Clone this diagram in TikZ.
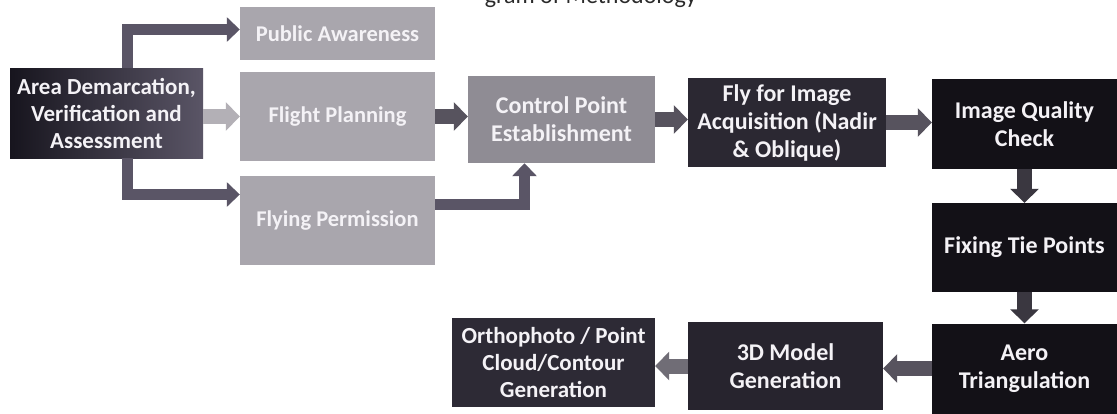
\documentclass[tikz,border=0pt]{standalone}
\usepackage{fontspec}
\setmainfont{Carlito}
\usetikzlibrary{arrows.meta}
\definecolor{boxtext}{HTML}{F4F2F6}
\definecolor{areaL}{HTML}{17151E}
\definecolor{areaR}{HTML}{5A5566}
\definecolor{lightfill}{HTML}{A9A6AD}
\definecolor{cpfill}{HTML}{8F8C94}
\definecolor{flyfill}{HTML}{2B2832}
\definecolor{darkfill}{HTML}{131117}
\definecolor{tdfill}{HTML}{27242E}
\definecolor{orthofill}{HTML}{2D2A35}
\definecolor{arrowdark}{HTML}{3A3740}
\definecolor{arrowmid}{HTML}{57535E}
\definecolor{arrowlight}{HTML}{B3B0B6}
\definecolor{arrowpurple}{HTML}{5A5566}
\definecolor{titlecol}{HTML}{2A2A2A}
\begin{document}
\begin{tikzpicture}[x=1pt,y=-1pt,
  box/.style={rectangle, inner sep=0pt, align=center, text=boxtext,
    font=\bfseries\fontsize{24}{28}\selectfont},
  lightbox/.style={box, fill=lightfill, font=\bfseries\fontsize{22.5}{27}\selectfont},
  link/.style={line width=15pt, -{Triangle[length=14pt,width=28pt]}},
  thinlink/.style={line width=11pt, -{Triangle[length=13pt,width=24pt]}}]
\useasboundingbox (0,0) rectangle (1117,413);
\clip (0,0) rectangle (1117,413);
\fill[white] (0,0) rectangle (1117,413);

% heading, cut off by the top edge
\node[anchor=base east, text=titlecol, inner sep=0pt,
  font=\fontsize{24}{28}\selectfont] (title) at (697,3) {gram of Methodology};

% left group
\node[box, left color=areaL, right color=areaR, minimum width=193pt, minimum height=90pt,
  font=\bfseries\fontsize{23}{27}\selectfont] (area) at (106.5,113)
  {Area Demarcation,\\Verification and\\Assessment};
\node[lightbox, minimum width=195pt, minimum height=53pt] (pa) at (337.5,33.5) {Public Awareness};
\node[lightbox, minimum width=195pt, minimum height=89pt] (fp) at (337.5,116.5) {Flight Planning};
\node[lightbox, minimum width=195pt, minimum height=89pt] (fperm) at (337.5,220.5) {Flying Permission};

% main row
\node[box, fill=cpfill, minimum width=187pt, minimum height=87pt] (cp) at (561.5,119.5) {Control Point\\Establishment};
\node[box, fill=flyfill, minimum width=198pt, minimum height=89pt] (fly) at (787,122.5) {Fly for Image\\Acquisition (Nadir\\\& Oblique)};
\node[box, fill=darkfill, minimum width=185pt, minimum height=90pt] (iq) at (1024.5,124) {Image Quality\\Check};
\node[box, fill=darkfill, minimum width=185pt, minimum height=89pt] (ftp) at (1024.5,247.5) {Fixing Tie Points};
\node[box, fill=darkfill, minimum width=185pt, minimum height=90pt] (aero) at (1024.5,368.5) {Aero\\Triangulation};
\node[box, fill=tdfill, minimum width=195pt, minimum height=88pt] (td) at (785.5,366) {3D Model\\Generation};
\node[box, fill=orthofill, minimum width=203pt, minimum height=89pt,
  font=\bfseries\fontsize{23}{27}\selectfont] (ortho) at (553.5,362.5) {Orthophoto / Point\\Cloud/Contour\\Generation};

% connectors
\draw[thinlink, draw=arrowpurple] ([xshift=21pt]area.north) |- ([yshift=4pt]pa.west);
\draw[link, draw=arrowlight] (area.east |- fp.west) -- (fp.west);
\draw[thinlink, draw=arrowpurple] ([xshift=21pt]area.south) |- ([yshift=26pt]fperm.west);
\draw[link, draw=arrowmid] (fp.east) -- (fp.east -| cp.west);
\draw[thinlink, draw=arrowpurple] ([yshift=16pt]fperm.east) -| ([xshift=-37pt]cp.south);
\draw[link, draw=arrowmid] (cp.east) -- (cp.east -| fly.west);
\draw[link, draw=arrowmid] (fly.east) -- (fly.east -| iq.west);
\draw[link, draw=arrowdark] (iq.south) -- (ftp.north);
\draw[link, draw=arrowdark] (ftp.south) -- (aero.north);
\draw[link, draw=arrowmid] (aero.west) -- (aero.west -| td.east);
\draw[link, draw=arrowmid!85] (td.west) -- (td.west -| ortho.east);
\end{tikzpicture}
\end{document}
